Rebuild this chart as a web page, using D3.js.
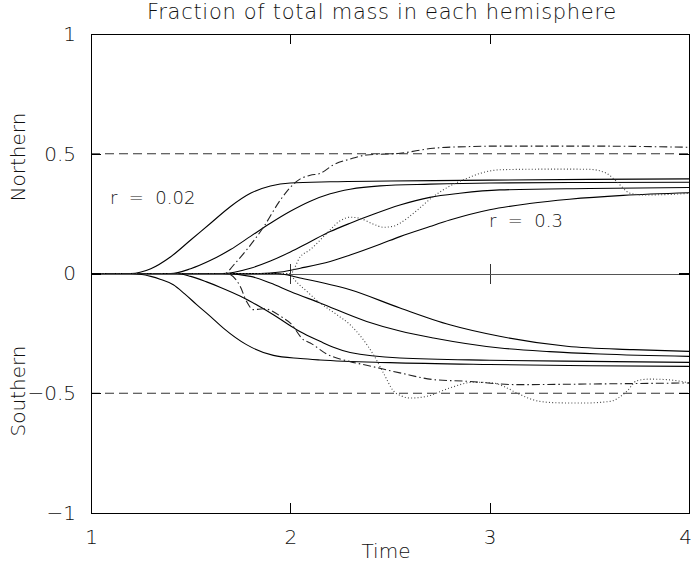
<!doctype html>
<meta charset="utf-8">
<title>Fraction of total mass in each hemisphere</title>
<style>
body { margin: 0; background: #fff; }
svg { display: block; background: #fff; }
text { font-family: "DejaVu Sans", sans-serif; font-weight: 200; fill: #111; }
.axis path, .axis line { stroke: #000; stroke-width: 1.1; shape-rendering: crispEdges; }
.axis text { font-size: 20px; }
.zero path { stroke: #555; stroke-width: 1; }
.zero line { stroke: #333; }
path.curve { fill: none; stroke: #000; stroke-width: 1.1; }
path.dotted { fill: none; stroke: #444; stroke-width: 1.1; stroke-dasharray: 1,2.2; }
path.dashdot { fill: none; stroke: #222; stroke-width: 1.1; stroke-dasharray: 8,3,1.5,3; }
line.half { stroke: #333; stroke-width: 1.1; stroke-dasharray: 9,5; }
</style>
<script src="https://d3js.org/d3.v7.min.js"></script>
<body>
<script>
var width = 693, height = 563;
var margin = {top: 34, right: 4, bottom: 50, left: 91};

// tick values
var xTicks = [1, 2, 3, 4];
var yTicks = [-1, -0.5, 0, 0.5, 1];
var halfLines = [0.5, -0.5];

// northern hemisphere, solid curves [time, fraction]
var northA = [[1,0],[1.2,0],[1.3,0.02],[1.4,0.07],[1.5,0.14],[1.6,0.21],[1.7,0.28],[1.8,0.335],[1.9,0.365],[2.0,0.378],[2.2,0.383],[2.5,0.386],[3,0.39],[3.5,0.393],[4,0.395]];
var northB = [[1,0],[1.4,0],[1.5,0.02],[1.6,0.055],[1.7,0.1],[1.8,0.155],[1.9,0.21],[2.0,0.26],[2.1,0.302],[2.2,0.333],[2.3,0.352],[2.45,0.366],[2.7,0.373],[3.0,0.378],[3.5,0.38],[4,0.381]];
var northC = [[1,0],[1.66,0],[1.8,0.022],[1.9,0.052],[2.0,0.09],[2.1,0.133],[2.2,0.175],[2.3,0.21],[2.4,0.242],[2.55,0.286],[2.7,0.318],[2.85,0.335],[3.05,0.349],[3.5,0.355],[4,0.359]];
var northD = [[1,0],[1.85,0],[1.95,0.006],[2.05,0.022],[2.2,0.05],[2.3,0.077],[2.45,0.122],[2.55,0.154],[2.7,0.196],[2.8,0.223],[3.0,0.266],[3.2,0.292],[3.4,0.31],[3.67,0.326],[4,0.337]];
var northDashDot = [[1,0],[1.67,0],[1.72,0.04],[1.78,0.098],[1.865,0.193],[1.95,0.307],[2.0,0.36],[2.05,0.395],[2.1,0.41],[2.15,0.418],[2.215,0.453],[2.3,0.478],[2.383,0.495],[2.55,0.502],[2.716,0.523],[2.9,0.53],[3.05,0.532],[3.5,0.532],[4,0.527]];
var northDotted = [[1,0],[2.0,0],[2.05,0.07],[2.1,0.1],[2.18,0.165],[2.25,0.22],[2.3,0.235],[2.35,0.23],[2.42,0.205],[2.467,0.193],[2.52,0.198],[2.55,0.21],[2.63,0.26],[2.717,0.321],[2.8,0.365],[2.885,0.397],[2.96,0.42],[3.05,0.433],[3.17,0.435],[3.35,0.436],[3.5,0.435],[3.587,0.418],[3.638,0.383],[3.704,0.335],[3.77,0.328],[3.9,0.33],[4,0.335]];

// southern hemisphere
var southA = [[1,0],[1.2,0],[1.3,-0.012],[1.35,-0.025],[1.413,-0.047],[1.47,-0.085],[1.53,-0.13],[1.6,-0.18],[1.664,-0.228],[1.78,-0.297],[1.915,-0.342],[2.05,-0.355],[2.149,-0.361],[2.5,-0.372],[3,-0.38],[3.5,-0.385],[4,-0.388]];
var southB = [[1,0],[1.43,0],[1.5,-0.012],[1.58,-0.035],[1.65,-0.058],[1.75,-0.095],[1.85,-0.14],[1.915,-0.172],[2.0,-0.218],[2.05,-0.243],[2.149,-0.283],[2.216,-0.308],[2.3,-0.33],[2.55,-0.353],[3,-0.362],[3.5,-0.367],[4,-0.371]];
var southC = [[1,0],[1.66,0],[1.8,-0.012],[1.9,-0.04],[2.0,-0.075],[2.149,-0.123],[2.383,-0.2],[2.55,-0.24],[2.718,-0.269],[3.052,-0.311],[3.3,-0.326],[3.554,-0.336],[4,-0.346]];
var southD = [[1,0],[1.93,0],[2.049,-0.019],[2.3,-0.068],[2.55,-0.144],[2.8,-0.214],[3.05,-0.262],[3.387,-0.304],[3.72,-0.318],[4,-0.325]];
var southDashDot = [[1,0],[1.68,0],[1.748,-0.053],[1.78,-0.116],[1.815,-0.151],[1.865,-0.147],[1.965,-0.186],[2.0,-0.207],[2.065,-0.276],[2.1,-0.29],[2.18,-0.335],[2.3,-0.368],[2.383,-0.383],[2.55,-0.415],[2.718,-0.443],[2.885,-0.45],[3.136,-0.464],[3.554,-0.461],[4,-0.457]];
var southDotted = [[1,0],[2.0,0],[2.015,-0.019],[2.082,-0.074],[2.149,-0.123],[2.23,-0.17],[2.3,-0.214],[2.36,-0.27],[2.417,-0.339],[2.47,-0.42],[2.517,-0.49],[2.56,-0.512],[2.6,-0.52],[2.684,-0.513],[2.8,-0.478],[2.918,-0.454],[3.018,-0.457],[3.08,-0.475],[3.136,-0.499],[3.252,-0.534],[3.35,-0.54],[3.47,-0.541],[3.604,-0.534],[3.688,-0.492],[3.738,-0.448],[3.8,-0.441],[3.888,-0.443],[4,-0.457]];

var solidCurves = [northA, northB, northC, northD, southA, southB, southC, southD];

var svg = d3.select("body").append("svg")
    .attr("width", width)
    .attr("height", height);

var x = d3.scaleLinear().domain([1, 4]).range([margin.left, width - margin.right]);
var y = d3.scaleLinear().domain([-1, 1]).range([height - margin.bottom, margin.top]);

var line = d3.line()
    .x(function(d) { return x(d[0]); })
    .y(function(d) { return y(d[1]); })
    .curve(d3.curveMonotoneX);

// dashed lines at +/- 0.5
svg.selectAll("line.half")
    .data(halfLines)
  .enter().append("line")
    .attr("class", "half")
    .attr("x1", x(1)).attr("x2", x(4))
    .attr("y1", function(d) { return y(d); })
    .attr("y2", function(d) { return y(d); });

// zero line with cross ticks
svg.append("g")
    .attr("class", "axis zero")
    .attr("transform", "translate(0," + y(0) + ")")
    .call(d3.axisBottom(x).tickValues([2, 3]).tickSize(10).tickSizeOuter(0).tickFormat(""));
svg.append("g")
    .attr("class", "axis zero")
    .attr("transform", "translate(0," + y(0) + ")")
    .call(d3.axisTop(x).tickValues([2, 3]).tickSize(10).tickSizeOuter(0).tickFormat(""));

// curves
svg.selectAll("path.curve")
    .data(solidCurves)
  .enter().append("path")
    .attr("class", "curve")
    .attr("d", line);

svg.selectAll("path.dotted")
    .data([northDotted, southDotted])
  .enter().append("path")
    .attr("class", "dotted")
    .attr("d", line);

svg.selectAll("path.dashdot")
    .data([northDashDot, southDashDot])
  .enter().append("path")
    .attr("class", "dashdot")
    .attr("d", line);

// frame axes, ticks pointing inward
var fmtY = function(d) { return d3.format("")(d).replace("-", "\u2212"); };

var bottomAxis = svg.append("g")
    .attr("class", "axis")
    .attr("transform", "translate(0," + y(-1) + ")")
    .call(d3.axisBottom(x).tickValues(xTicks).tickSize(-10).tickSizeOuter(0).tickPadding(17).tickFormat(d3.format("d")));
// keep the last label inside the window
bottomAxis.selectAll(".tick text")
    .filter(function(d) { return d === 4; })
    .attr("dx", -4);

svg.append("g")
    .attr("class", "axis")
    .attr("transform", "translate(0," + y(1) + ")")
    .call(d3.axisTop(x).tickValues(xTicks).tickSize(-10).tickSizeOuter(0).tickFormat(""));
svg.append("g")
    .attr("class", "axis")
    .attr("transform", "translate(" + x(1) + ",0)")
    .call(d3.axisLeft(y).tickValues(yTicks).tickSize(-10).tickSizeOuter(0).tickPadding(15).tickFormat(fmtY));
svg.append("g")
    .attr("class", "axis")
    .attr("transform", "translate(" + x(4) + ",0)")
    .call(d3.axisRight(y).tickValues(yTicks).tickSize(-10).tickSizeOuter(0).tickFormat(""));

svg.selectAll(".axis .domain").attr("stroke", "#000");

// titles and labels
svg.append("text")
    .attr("x", 382).attr("y", 19)
    .attr("text-anchor", "middle")
    .style("font-size", "21px")
    .style("letter-spacing", "0.7px")
    .text("Fraction of total mass in each hemisphere");

svg.append("text")
    .attr("x", 386).attr("y", 558)
    .attr("text-anchor", "middle")
    .style("font-size", "20px")
    .text("Time");

svg.append("text")
    .attr("transform", "translate(25,157) rotate(-90)")
    .attr("text-anchor", "middle")
    .style("font-size", "20px")
    .text("Northern");

svg.append("text")
    .attr("transform", "translate(25,391) rotate(-90)")
    .attr("text-anchor", "middle")
    .style("font-size", "20px")
    .text("Southern");

svg.append("text")
    .attr("x", 110).attr("y", 204)
    .style("font-size", "18px")
    .attr("xml:space", "preserve")
    .text("r  =  0.02");

svg.append("text")
    .attr("x", 489).attr("y", 227)
    .style("font-size", "18px")
    .attr("xml:space", "preserve")
    .text("r  =  0.3");
</script>
